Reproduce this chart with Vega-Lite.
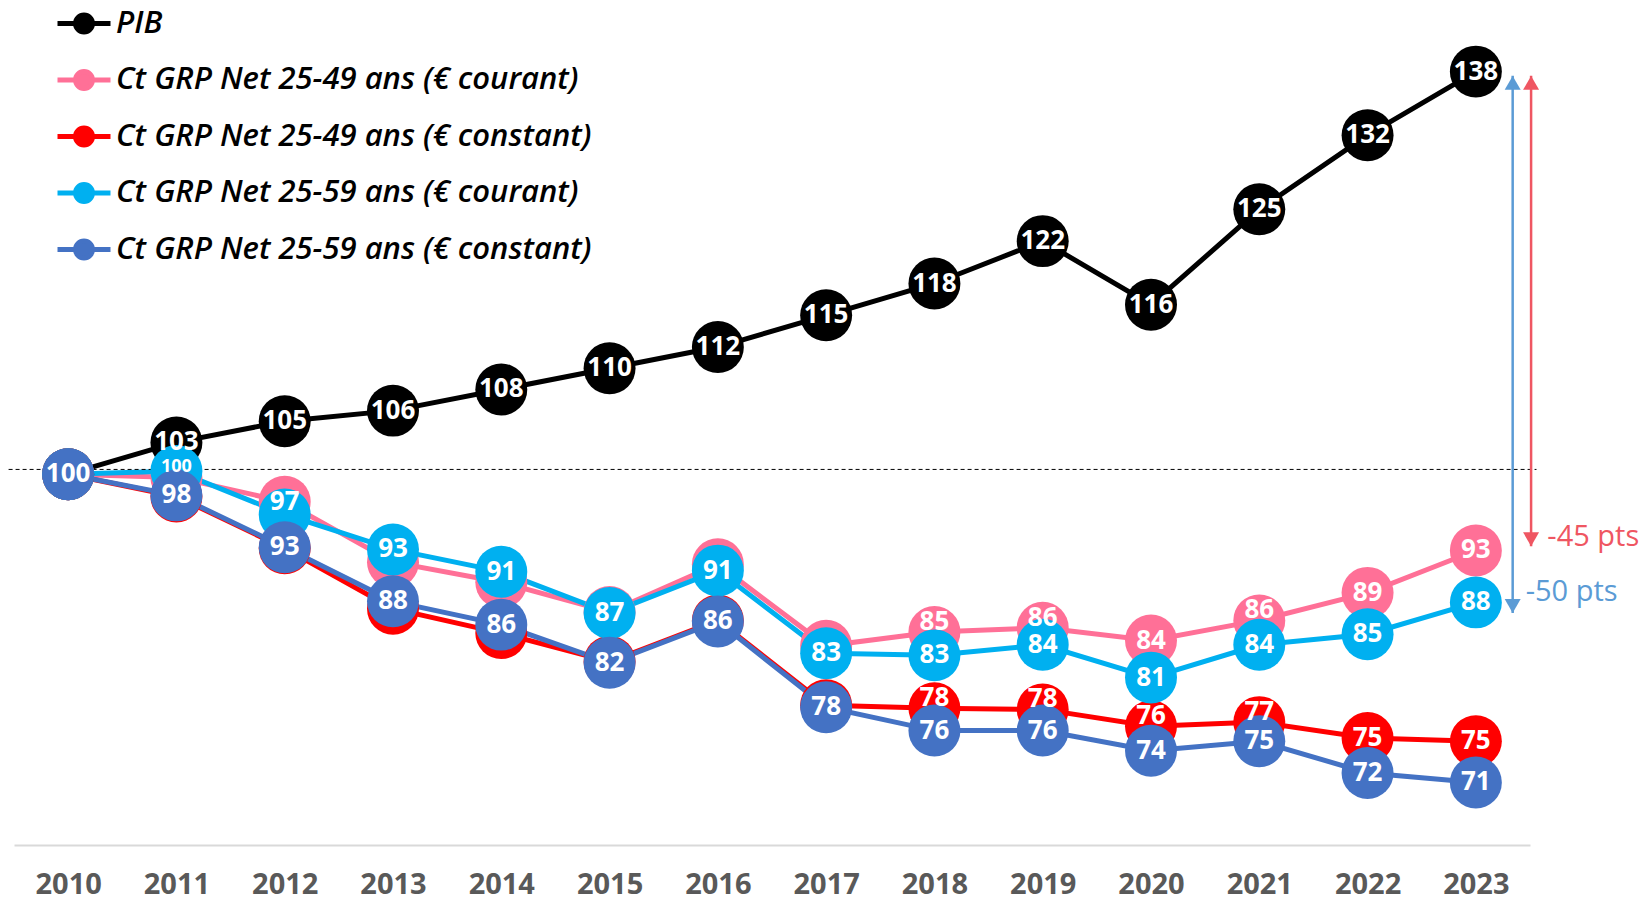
{
  "$schema": "https://vega.github.io/schema/vega-lite/v6.json",
  "width": 1516,
  "height": 845,
  "autosize": {"type": "none"},
  "padding": {"left": 14, "top": 0, "right": 122, "bottom": 56},
  "background": "white",
  "config": {"view": {"stroke": null}, "font": "Open Sans"},
  "datasets": {
    "series": [
      {"year": 2010, "series": "PIB", "value": 100, "shown": false},
      {"year": 2011, "series": "PIB", "value": 103, "shown": true},
      {"year": 2012, "series": "PIB", "value": 105, "shown": true},
      {"year": 2013, "series": "PIB", "value": 106, "shown": true},
      {"year": 2014, "series": "PIB", "value": 108, "shown": true},
      {"year": 2015, "series": "PIB", "value": 110, "shown": true},
      {"year": 2016, "series": "PIB", "value": 112, "shown": true},
      {"year": 2017, "series": "PIB", "value": 115, "shown": true},
      {"year": 2018, "series": "PIB", "value": 118, "shown": true},
      {"year": 2019, "series": "PIB", "value": 122, "shown": true},
      {"year": 2020, "series": "PIB", "value": 116, "shown": true},
      {"year": 2021, "series": "PIB", "value": 125, "shown": true},
      {"year": 2022, "series": "PIB", "value": 132, "shown": true},
      {"year": 2023, "series": "PIB", "value": 138, "shown": true},

      {"year": 2010, "series": "Ct GRP Net 25-49 ans (€ courant)", "value": 100, "shown": false},
      {"year": 2011, "series": "Ct GRP Net 25-49 ans (€ courant)", "value": 99.7, "shown": false},
      {"year": 2012, "series": "Ct GRP Net 25-49 ans (€ courant)", "value": 97.4, "shown": true},
      {"year": 2013, "series": "Ct GRP Net 25-49 ans (€ courant)", "value": 91.7, "shown": false},
      {"year": 2014, "series": "Ct GRP Net 25-49 ans (€ courant)", "value": 89.8, "shown": false},
      {"year": 2015, "series": "Ct GRP Net 25-49 ans (€ courant)", "value": 87.0, "shown": false},
      {"year": 2016, "series": "Ct GRP Net 25-49 ans (€ courant)", "value": 91.5, "shown": false},
      {"year": 2017, "series": "Ct GRP Net 25-49 ans (€ courant)", "value": 83.8, "shown": false},
      {"year": 2018, "series": "Ct GRP Net 25-49 ans (€ courant)", "value": 85.1, "shown": true},
      {"year": 2019, "series": "Ct GRP Net 25-49 ans (€ courant)", "value": 85.5, "shown": true},
      {"year": 2020, "series": "Ct GRP Net 25-49 ans (€ courant)", "value": 84.3, "shown": true},
      {"year": 2021, "series": "Ct GRP Net 25-49 ans (€ courant)", "value": 86.2, "shown": true},
      {"year": 2022, "series": "Ct GRP Net 25-49 ans (€ courant)", "value": 88.8, "shown": true},
      {"year": 2023, "series": "Ct GRP Net 25-49 ans (€ courant)", "value": 92.8, "shown": true},

      {"year": 2010, "series": "Ct GRP Net 25-49 ans (€ constant)", "value": 100, "shown": false},
      {"year": 2011, "series": "Ct GRP Net 25-49 ans (€ constant)", "value": 97.9, "shown": false},
      {"year": 2012, "series": "Ct GRP Net 25-49 ans (€ constant)", "value": 93.0, "shown": false},
      {"year": 2013, "series": "Ct GRP Net 25-49 ans (€ constant)", "value": 87.3, "shown": false},
      {"year": 2014, "series": "Ct GRP Net 25-49 ans (€ constant)", "value": 85.0, "shown": false},
      {"year": 2015, "series": "Ct GRP Net 25-49 ans (€ constant)", "value": 82.3, "shown": false},
      {"year": 2016, "series": "Ct GRP Net 25-49 ans (€ constant)", "value": 86.2, "shown": false},
      {"year": 2017, "series": "Ct GRP Net 25-49 ans (€ constant)", "value": 78.2, "shown": false},
      {"year": 2018, "series": "Ct GRP Net 25-49 ans (€ constant)", "value": 77.9, "shown": true},
      {"year": 2019, "series": "Ct GRP Net 25-49 ans (€ constant)", "value": 77.8, "shown": true},
      {"year": 2020, "series": "Ct GRP Net 25-49 ans (€ constant)", "value": 76.2, "shown": true},
      {"year": 2021, "series": "Ct GRP Net 25-49 ans (€ constant)", "value": 76.6, "shown": true},
      {"year": 2022, "series": "Ct GRP Net 25-49 ans (€ constant)", "value": 75.1, "shown": true},
      {"year": 2023, "series": "Ct GRP Net 25-49 ans (€ constant)", "value": 74.8, "shown": true},

      {"year": 2010, "series": "Ct GRP Net 25-59 ans (€ courant)", "value": 100, "shown": false},
      {"year": 2011, "series": "Ct GRP Net 25-59 ans (€ courant)", "value": 100.3, "shown": true},
      {"year": 2012, "series": "Ct GRP Net 25-59 ans (€ courant)", "value": 96.2, "shown": false},
      {"year": 2013, "series": "Ct GRP Net 25-59 ans (€ courant)", "value": 92.9, "shown": true},
      {"year": 2014, "series": "Ct GRP Net 25-59 ans (€ courant)", "value": 90.8, "shown": true},
      {"year": 2015, "series": "Ct GRP Net 25-59 ans (€ courant)", "value": 86.9, "shown": true},
      {"year": 2016, "series": "Ct GRP Net 25-59 ans (€ courant)", "value": 90.9, "shown": true},
      {"year": 2017, "series": "Ct GRP Net 25-59 ans (€ courant)", "value": 83.1, "shown": true},
      {"year": 2018, "series": "Ct GRP Net 25-59 ans (€ courant)", "value": 82.9, "shown": true},
      {"year": 2019, "series": "Ct GRP Net 25-59 ans (€ courant)", "value": 83.9, "shown": true},
      {"year": 2020, "series": "Ct GRP Net 25-59 ans (€ courant)", "value": 80.8, "shown": true},
      {"year": 2021, "series": "Ct GRP Net 25-59 ans (€ courant)", "value": 83.9, "shown": true},
      {"year": 2022, "series": "Ct GRP Net 25-59 ans (€ courant)", "value": 84.9, "shown": true},
      {"year": 2023, "series": "Ct GRP Net 25-59 ans (€ courant)", "value": 87.9, "shown": true},

      {"year": 2010, "series": "Ct GRP Net 25-59 ans (€ constant)", "value": 100, "shown": true},
      {"year": 2011, "series": "Ct GRP Net 25-59 ans (€ constant)", "value": 98.0, "shown": true},
      {"year": 2012, "series": "Ct GRP Net 25-59 ans (€ constant)", "value": 93.1, "shown": true},
      {"year": 2013, "series": "Ct GRP Net 25-59 ans (€ constant)", "value": 88.0, "shown": true},
      {"year": 2014, "series": "Ct GRP Net 25-59 ans (€ constant)", "value": 85.8, "shown": true},
      {"year": 2015, "series": "Ct GRP Net 25-59 ans (€ constant)", "value": 82.2, "shown": true},
      {"year": 2016, "series": "Ct GRP Net 25-59 ans (€ constant)", "value": 86.1, "shown": true},
      {"year": 2017, "series": "Ct GRP Net 25-59 ans (€ constant)", "value": 78.0, "shown": true},
      {"year": 2018, "series": "Ct GRP Net 25-59 ans (€ constant)", "value": 75.8, "shown": true},
      {"year": 2019, "series": "Ct GRP Net 25-59 ans (€ constant)", "value": 75.8, "shown": true},
      {"year": 2020, "series": "Ct GRP Net 25-59 ans (€ constant)", "value": 73.9, "shown": true},
      {"year": 2021, "series": "Ct GRP Net 25-59 ans (€ constant)", "value": 74.8, "shown": true},
      {"year": 2022, "series": "Ct GRP Net 25-59 ans (€ constant)", "value": 71.8, "shown": true},
      {"year": 2023, "series": "Ct GRP Net 25-59 ans (€ constant)", "value": 70.9, "shown": true}
    ],
    "gaps": [
      {"gap": -45, "label": "-45 pts", "x": 2023.51, "top": 137.6, "bottom": 93.2, "tx": 2023.66, "ty": 94.1},
      {"gap": -50, "label": "-50 pts", "x": 2023.34, "top": 137.6, "bottom": 86.9, "tx": 2023.46, "ty": 88.9}
    ]
  },
  "layer": [
    {
      "data": {"name": "series"},
      "mark": {"type": "line", "strokeWidth": 5},
      "encoding": {
        "x": {
          "field": "year", "type": "quantitative", "title": null,
          "scale": {"domain": [2009.5, 2023.5], "nice": false, "zero": false},
          "axis": {
            "values": [2010, 2011, 2012, 2013, 2014, 2015, 2016, 2017, 2018, 2019, 2020, 2021, 2022, 2023],
            "format": "d", "labelFont": "Open Sans", "labelFontSize": 29, "labelFontWeight": "bold",
            "labelColor": "#595959", "labelPadding": 25, "ticks": false, "grid": false,
            "domainColor": "#D9D9D9", "domainWidth": 2, "labelFlush": false, "labelOverlap": false
          }
        },
        "y": {
          "field": "value", "type": "quantitative", "title": null,
          "scale": {"domain": [65, 144.76], "nice": false, "zero": false},
          "axis": null
        },
        "color": {
          "field": "series", "type": "nominal", "title": null,
          "scale": {
            "domain": ["PIB", "Ct GRP Net 25-49 ans (€ courant)", "Ct GRP Net 25-49 ans (€ constant)", "Ct GRP Net 25-59 ans (€ courant)", "Ct GRP Net 25-59 ans (€ constant)"],
            "range": ["#000000", "#FF7097", "#FF0000", "#00B0F0", "#4472C4"]
          },
          "legend": {
            "title": null, "orient": "none", "legendX": 41, "legendY": -5.5, "direction": "vertical",
            "symbolType": "M-1,0L1,0M-0.32,0A0.32,0.32,0,1,1,0.32,0A0.32,0.32,0,1,1,-0.32,0Z",
            "symbolSize": 2809, "symbolStrokeWidth": 5, "symbolOpacity": 1,
            "labelFont": "Open Sans", "labelFontSize": 31, "labelFontStyle": "italic", "labelFontWeight": 600,
            "labelColor": "#000000", "labelOffset": 3, "rowPadding": 8.5, "padding": 0, "labelLimit": 900,
            "encode": {"symbols": {"update": {"fill": {"scale": "color", "field": "value"}, "stroke": {"scale": "color", "field": "value"}}}}
          }
        },
        "order": {"field": "year"}
      }
    },
    {
      "data": {"values": [{"x": 2009.45, "x2": 2023.56, "y": 100.45}]},
      "mark": {"type": "rule", "color": "#000000", "strokeWidth": 1, "strokeDash": [4, 3]},
      "encoding": {
        "x": {"field": "x", "type": "quantitative", "title": null},
        "x2": {"field": "x2"},
        "y": {"field": "y", "type": "quantitative", "title": null, "axis": null}
      }
    },
    {
      "data": {"name": "series"},
      "mark": {"type": "point", "filled": true, "shape": "circle", "size": 2700, "opacity": 1, "strokeWidth": 0},
      "encoding": {
        "x": {"field": "year", "type": "quantitative", "title": null},
        "y": {"field": "value", "type": "quantitative", "title": null, "axis": null},
        "color": {"field": "series", "type": "nominal", "title": null, "legend": null}
      }
    },
    {
      "data": {"name": "series"},
      "transform": [{"filter": "datum.shown && !((datum.series == 'Ct GRP Net 25-49 ans (€ courant)' && indexof([2018, 2019, 2021], datum.year) >= 0) || (datum.series == 'Ct GRP Net 25-49 ans (€ constant)' && datum.year >= 2018 && datum.year <= 2021) || (datum.series == 'Ct GRP Net 25-59 ans (€ courant)' && datum.year == 2011))"}],
      "mark": {"type": "text", "color": "#FFFFFF", "font": "Open Sans", "fontWeight": "bold", "fontSize": 26, "align": "center", "baseline": "middle"},
      "encoding": {
        "x": {"field": "year", "type": "quantitative", "title": null},
        "y": {"field": "value", "type": "quantitative", "title": null, "axis": null},
        "text": {"field": "value", "type": "quantitative", "format": ".0f"}
      }
    },
    {
      "data": {"name": "series"},
      "transform": [{"filter": "datum.shown && ((datum.series == 'Ct GRP Net 25-49 ans (€ courant)' && indexof([2018, 2019, 2021], datum.year) >= 0) || (datum.series == 'Ct GRP Net 25-49 ans (€ constant)' && datum.year >= 2018 && datum.year <= 2021))"}],
      "mark": {"type": "text", "color": "#FFFFFF", "font": "Open Sans", "fontWeight": "bold", "fontSize": 26, "align": "center", "baseline": "middle", "dy": -10},
      "encoding": {
        "x": {"field": "year", "type": "quantitative", "title": null},
        "y": {"field": "value", "type": "quantitative", "title": null, "axis": null},
        "text": {"field": "value", "type": "quantitative", "format": ".0f"}
      }
    },
    {
      "data": {"name": "series"},
      "transform": [{"filter": "datum.shown && datum.series == 'Ct GRP Net 25-59 ans (€ courant)' && datum.year == 2011"}],
      "mark": {"type": "text", "color": "#FFFFFF", "font": "Open Sans", "fontWeight": "bold", "fontSize": 18, "align": "center", "baseline": "middle", "dy": -4},
      "encoding": {
        "x": {"field": "year", "type": "quantitative", "title": null},
        "y": {"field": "value", "type": "quantitative", "title": null, "axis": null},
        "text": {"field": "value", "type": "quantitative", "format": ".0f"}
      }
    },
    {
      "data": {"name": "gaps"},
      "mark": {"type": "rule", "strokeWidth": 2.5},
      "encoding": {
        "x": {"field": "x", "type": "quantitative", "title": null},
        "y": {"field": "top", "type": "quantitative", "title": null, "axis": null},
        "y2": {"field": "bottom"},
        "color": {"condition": {"test": "datum.gap == -45", "value": "#EF5662"}, "value": "#5B9BD5"}
      }
    },
    {
      "data": {"name": "gaps"},
      "mark": {"type": "point", "shape": "triangle-up", "filled": true, "size": 256, "opacity": 1, "yOffset": 7},
      "encoding": {
        "x": {"field": "x", "type": "quantitative", "title": null},
        "y": {"field": "top", "type": "quantitative", "title": null, "axis": null},
        "color": {"condition": {"test": "datum.gap == -45", "value": "#EF5662"}, "value": "#5B9BD5"}
      }
    },
    {
      "data": {"name": "gaps"},
      "mark": {"type": "point", "shape": "triangle-down", "filled": true, "size": 256, "opacity": 1, "yOffset": -7},
      "encoding": {
        "x": {"field": "x", "type": "quantitative", "title": null},
        "y": {"field": "bottom", "type": "quantitative", "title": null, "axis": null},
        "color": {"condition": {"test": "datum.gap == -45", "value": "#EF5662"}, "value": "#5B9BD5"}
      }
    },
    {
      "data": {"name": "gaps"},
      "mark": {"type": "text", "font": "Open Sans", "fontSize": 29, "align": "left", "baseline": "middle"},
      "encoding": {
        "x": {"field": "tx", "type": "quantitative", "title": null},
        "y": {"field": "ty", "type": "quantitative", "title": null, "axis": null},
        "text": {"field": "label"},
        "color": {"condition": {"test": "datum.gap == -45", "value": "#EF5662"}, "value": "#5B9BD5"}
      }
    }
  ]
}
